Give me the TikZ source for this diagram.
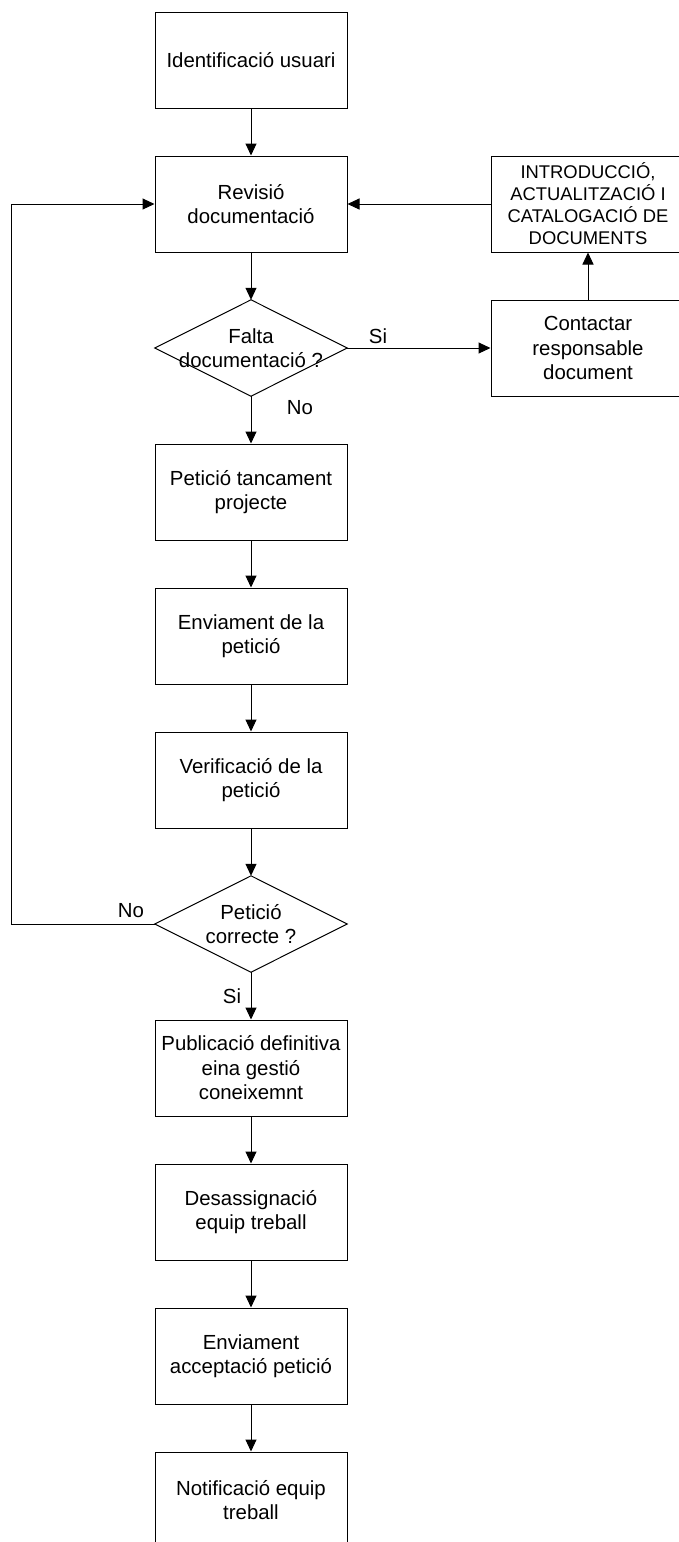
\documentclass[tikz,border=0pt]{standalone}
\usepackage{fontspec}
\setmainfont{Liberation Sans}
\usetikzlibrary{arrows.meta}
\begin{document}
\begin{tikzpicture}[x=1pt,y=-1pt,
  every node/.style={font=\fontsize{20.4pt}{24.5pt}\selectfont, align=center, inner sep=0pt},
  stepbox/.style={draw, line width=1pt, minimum width=192pt, minimum height=96pt},
  sidebox/.style={stepbox, minimum width=194pt},
  decision/.style={minimum width=192pt, minimum height=96pt},
  outline/.style={draw, line width=1pt},
  flow/.style={draw, line width=1pt, -{Triangle[length=12pt,width=11pt]}}
]
\clip (0,0) rectangle (679,1542);

% main column
\node[stepbox] (ident)  at (251,60)   {Identificació usuari};
\node[stepbox] (revis)  at (251,204)  {Revisió\\documentació};
\node[decision] (falta) at (251,348)  {Falta\\documentació ?};
\node[stepbox] (tanca)  at (251,492)  {Petició tancament\\projecte};
\node[stepbox] (envia)  at (251,636)  {Enviament de la\\petició};
\node[stepbox] (verif)  at (251,780)  {Verificació de la\\petició};
\node[decision] (corre) at (251,924)  {Petició\\correcte ?};
\node[stepbox] (publi)  at (251,1068) {Publicació definitiva\\eina gestió\\coneixemnt};
\node[stepbox] (desas)  at (251,1212) {Desassignació\\equip treball};
\node[stepbox] (accep)  at (251,1356) {Enviament\\acceptació petició};
\node[stepbox] (notif)  at (251,1500) {Notificació equip\\treball};

% side column
\node[sidebox, font=\fontsize{18.4pt}{22pt}\selectfont] (intro) at (588,204)
  {INTRODUCCIÓ,\\ACTUALITZACIÓ I\\CATALOGACIÓ DE\\DOCUMENTS};
\node[sidebox] (conta) at (588,348) {Contactar\\responsable\\document};

% decision outlines
\draw[outline] (falta.north) -- (falta.east) -- (falta.south) -- (falta.west) -- cycle;
\draw[outline] (corre.north) -- (corre.east) -- (corre.south) -- (corre.west) -- cycle;

% connectors
\draw[flow] (ident) -- (revis);
\draw[flow] (revis) -- (falta.north);
\draw[flow] (falta.south) -- (tanca);
\draw[flow] (tanca) -- (envia);
\draw[flow] (envia) -- (verif);
\draw[flow] (verif) -- (corre.north);
\draw[flow] (corre.south) -- (publi);
\draw[flow] (publi) -- (desas);
\draw[flow] (desas) -- (accep);
\draw[flow] (accep) -- (notif);
\draw[flow] (falta.east) -- (conta.west);
\draw[flow] (conta) -- (intro);
\draw[flow] (intro) -- (revis);
\coordinate (loopx) at (11,0);
\draw[flow] (corre.west) -- (corre.west -| loopx) |- (revis.west);

% branch labels
\node (siA) at (378,336) {Si};
\node (noA) at (300,408) {No};
\node (noB) at (131,911) {No};
\node (siB) at (232,996) {Si};
\end{tikzpicture}
\end{document}
